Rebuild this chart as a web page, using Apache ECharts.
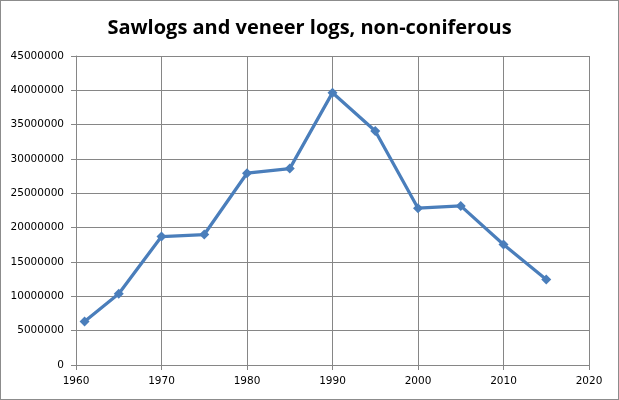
<!DOCTYPE html>
<html>
<head>
<meta charset="utf-8">
<script src="https://cdn.jsdelivr.net/npm/echarts@6/dist/echarts.min.js"></script>
<style>
html,body{margin:0;padding:0;background:#fff;}
#c{width:619px;height:400px;box-sizing:border-box;border:1px solid #8c8c8c;}
</style>
</head>
<body>
<div id="c"></div>
<script>
const titleText = "Sawlogs and veneer logs, non-coniferous";
const years = [1961, 1965, 1970, 1975, 1980, 1985, 1990, 1995, 2000, 2005, 2010, 2015];
const values = [6340000, 10370000, 18710000, 19000000, 27930000, 28600000, 39660000, 34090000, 22840000, 23170000, 17540000, 12450000];

const chart = echarts.init(document.getElementById('c'), null, {renderer: 'canvas'});
const gridColor = '#868686';
chart.setOption({
  animation: false,
  title: {
    text: titleText,
    left: 'center',
    top: 12,
    textStyle: {fontFamily: 'Open Sans', fontWeight: 'bold', fontSize: 20, color: '#000'}
  },
  grid: {left: 75, right: 29, top: 55, bottom: 34},
  xAxis: {
    type: 'value', min: 1960, max: 2020, interval: 10,
    axisLine: {show: true, lineStyle: {color: gridColor}},
    axisTick: {show: true, length: 5, lineStyle: {color: gridColor}},
    splitLine: {show: true, lineStyle: {color: gridColor, width: 1}},
    axisLabel: {fontFamily: 'DejaVu Sans', fontSize: 10.5, color: '#000', margin: 11, formatter: v => String(v)}
  },
  yAxis: {
    type: 'value', min: 0, max: 45000000, interval: 5000000,
    axisLine: {show: true, lineStyle: {color: gridColor}},
    axisTick: {show: true, length: 5, lineStyle: {color: gridColor}},
    splitLine: {show: true, lineStyle: {color: gridColor, width: 1}},
    axisLabel: {fontFamily: 'DejaVu Sans', fontSize: 10.5, color: '#000', margin: 12, formatter: v => String(v)}
  },
  series: [{
    type: 'line',
    data: years.map((y, i) => [y, values[i]]),
    symbol: 'diamond',
    symbolSize: 10,
    lineStyle: {color: '#4a7ebb', width: 3.25},
    itemStyle: {color: '#4a7ebb'}
  }]
});
</script>
</body>
</html>
